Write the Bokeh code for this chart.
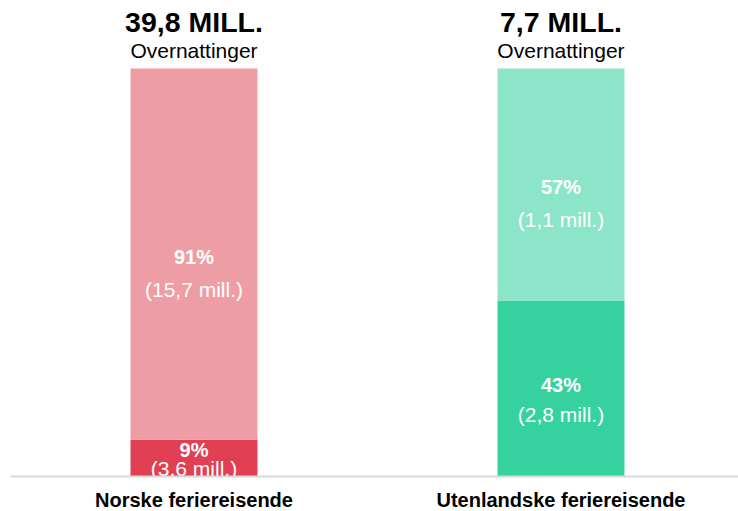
from bokeh.plotting import figure
from bokeh.models import ColumnDataSource, Range1d, Span
from bokeh.core.properties import value
from bokeh.embed import file_html
from bokeh.resources import INLINE

# ---- data ----
categories = ["Norske feriereisende", "Utenlandske feriereisende"]
totals = ["39,8 MILL.", "7,7 MILL."]
bottom_pct = [9, 43]
top_pct = [91, 57]
bottom_mill = ["(3,6 mill.)", "(2,8 mill.)"]
top_mill = ["(15,7 mill.)", "(1,1 mill.)"]

bottom_colors = ["#E13F54", "#35D29F"]
top_colors = ["#EF9DA5", "#8DE5C9"]

FONT = value("Liberation Sans")
xs = list(range(len(categories)))

p = figure(width=738, height=511, output_backend="svg", toolbar_location=None,
           x_range=Range1d(-0.5, 1.4837), y_range=Range1d(-8.578, 116.67),
           x_axis_location=None, y_axis_location=None,
           min_border_left=10, min_border_right=0,
           min_border_top=0, min_border_bottom=0)
p.outline_line_color = None
p.xgrid.visible = False
p.ygrid.visible = False
p.background_fill_color = "white"
p.border_fill_color = "white"

seg_src = ColumnDataSource(dict(
    x=xs + xs,
    bottom=[0] * len(xs) + bottom_pct,
    top=bottom_pct + [b + t for b, t in zip(bottom_pct, top_pct)],
    color=bottom_colors + top_colors,
    pct=[f"{v}%" for v in bottom_pct] + [f"{v}%" for v in top_pct],
    mill=bottom_mill + top_mill,
    pct_off=[-8, -4, 2.5, 2.5],
    mill_off=[10, 26, 35, 35],
))
seg_src.data["mid"] = [(b + t) / 2 for b, t in zip(seg_src.data["bottom"], seg_src.data["top"])]

p.vbar(x="x", bottom="bottom", top="top", width=0.346, color="color",
       line_color=None, source=seg_src)

p.text(x="x", y="mid", text="pct", source=seg_src, y_offset="pct_off",
       text_font=FONT, text_font_size="20px", text_font_style="bold",
       text_color="white", text_align="center", text_baseline="middle")
p.text(x="x", y="mid", text="mill", source=seg_src, y_offset="mill_off",
       text_font=FONT, text_font_size="21px",
       text_color="white", text_align="center", text_baseline="middle")

hdr_src = ColumnDataSource(dict(
    x=xs,
    y=[b + t for b, t in zip(bottom_pct, top_pct)],
    total=totals,
    sub=["Overnattinger"] * len(xs),
    base=[0] * len(xs),
    cat=categories,
))
p.text(x="x", y="y", text="total", source=hdr_src, y_offset=-47,
       text_font=FONT, text_font_size="28.5px", text_font_style="bold",
       text_color="#000000", text_align="center", text_baseline="middle")
p.text(x="x", y="y", text="sub", source=hdr_src, y_offset=-18,
       text_font=FONT, text_font_size="21px",
       text_color="#000000", text_align="center", text_baseline="middle")

# baseline (axis line) and category labels
p.add_layout(Span(location=0, dimension="width", line_color="#D9D9D9", line_width=2))
p.text(x="x", y="base", text="cat", source=hdr_src, y_offset=23,
       text_font=FONT, text_font_size="20px", text_font_style="bold",
       text_color="#000000", text_align="center", text_baseline="middle")

open("out.html", "w").write(file_html(p, INLINE))
